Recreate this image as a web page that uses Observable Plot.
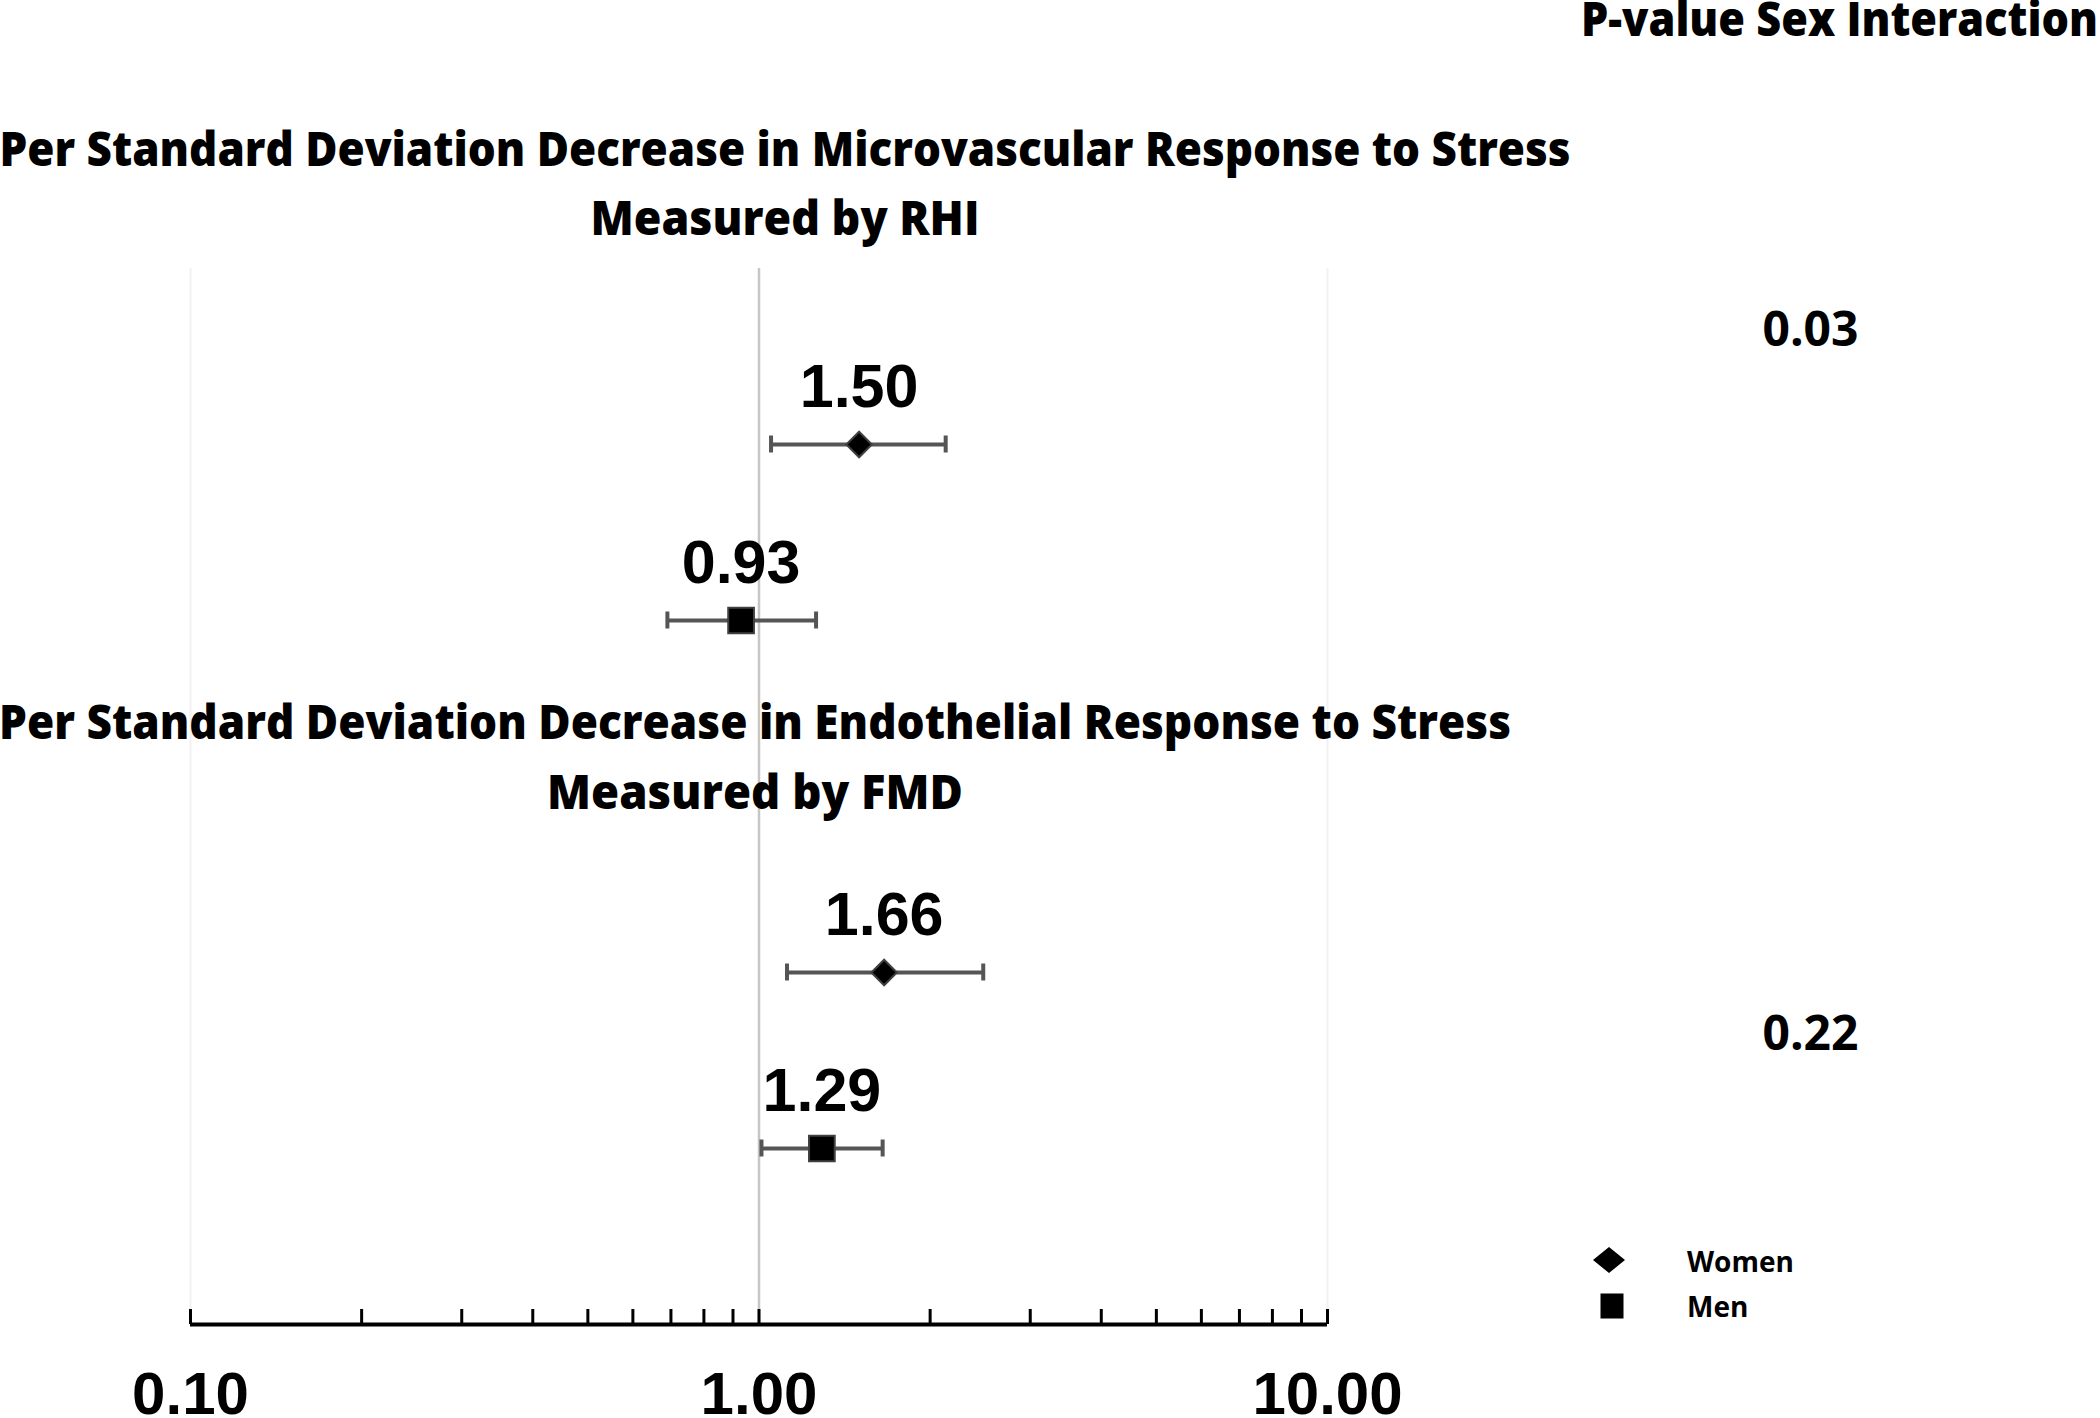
<!DOCTYPE html>
<html><head><meta charset="utf-8">
<script src="https://cdn.jsdelivr.net/npm/d3@7"></script>
<script src="https://cdn.jsdelivr.net/npm/@observablehq/plot@0.6"></script>
<style>
html,body{margin:0;padding:0;background:#fff;}
#wrap{position:relative;width:2100px;height:1418px;overflow:hidden;background:#fff;}
#wrap svg{position:absolute;left:0;top:0;}
</style></head><body><div id="wrap"></div>
<script>
// ---- data ----
const groups = ["RHI", "RHI", "FMD", "FMD"];
const sexes = ["Women", "Men", "Women", "Men"];
const estimates = [1.50, 0.93, 1.66, 1.29];
const lowerCI = [1.05, 0.69, 1.12, 1.01];
const upperCI = [2.13, 1.26, 2.48, 1.65];
const estimateLabels = ["1.50", "0.93", "1.66", "1.29"];
const rowKeys = ["top", "RHI Women", "RHI Men", "gap", "FMD Women", "FMD Men", "axis"];
const pValues = ["0.03", "0.22"];
const pValueRows = ["RHI Women", "FMD Men"];
const pValueHeader = "P-value Sex Interaction";
const titleLines = [
  "Per Standard Deviation Decrease in Microvascular Response to Stress",
  "Measured by RHI",
  "Per Standard Deviation Decrease in Endothelial Response to Stress",
  "Measured by FMD"
];
const minorTicks = [0.1, 0.2, 0.3, 0.4, 0.5, 0.6, 0.7, 0.8, 0.9, 1, 2, 3, 4, 5, 6, 7, 8, 9, 10];
const tickLabels = [0.1, 1, 10];
const edgeLines = [0.1, 10];
const refLine = [1];
const legendItems = ["Women", "Men"];

const data = groups.map((g, i) => ({
  row: `${g} ${sexes[i]}`, sex: sexes[i], est: estimates[i],
  lo: lowerCI[i], hi: upperCI[i], label: estimateLabels[i]
}));

const W = 2100, H = 1418;
const barColor = "#555555";
const numFont = "'Liberation Sans', Arial, sans-serif";
const txtFont = "'Open Sans', 'Noto Sans', sans-serif";

const chart = Plot.plot({
  width: W, height: H,
  marginLeft: 190, marginRight: 773, marginTop: 267, marginBottom: 93,
  style: {background: "#fff", overflow: "visible"},
  x: {type: "log", domain: [0.1, 10], label: null},
  y: {type: "point", domain: rowKeys, padding: 0, axis: null, label: null},
  marks: [
    Plot.ruleX(edgeLines, {x: d => d, y1: () => "top", y2: () => "axis", stroke: "#f2f2f2", strokeWidth: 2}),
    Plot.ruleX(refLine, {x: d => d, y1: () => "top", y2: () => "axis", stroke: "#c6c6c6", strokeWidth: 2.5}),
    Plot.ruleY(["axis"], {y: d => d, x1: 0.1, x2: 10, stroke: "#000", strokeWidth: 4}),
    Plot.ruleX(minorTicks, {x: d => d, y1: () => "axis", y2: () => "axis", insetTop: -15, stroke: "#000", strokeWidth: 3}),
    Plot.axisX({ticks: tickLabels, tickFormat: d => d.toFixed(2), tickSize: 0, tickPadding: 46,
      fontSize: 60, fontWeight: "bold", fontFamily: numFont, fill: "#000", label: null}),
    // error bars
    Plot.ruleY(data, {y: "row", x1: "lo", x2: "hi", stroke: barColor, strokeWidth: 4}),
    Plot.ruleX(data, {x: "lo", y1: "row", y2: "row", insetTop: -8.5, insetBottom: -8.5, stroke: barColor, strokeWidth: 4}),
    Plot.ruleX(data, {x: "hi", y1: "row", y2: "row", insetTop: -8.5, insetBottom: -8.5, stroke: barColor, strokeWidth: 4}),
    // markers
    Plot.dot(data.filter(d => d.sex === "Women"), {x: "est", y: "row", symbol: "diamond2", r: 11.5, fill: "#000", stroke: "#404040", strokeWidth: 2}),
    Plot.dot(data.filter(d => d.sex === "Men"), {x: "est", y: "row", symbol: "square", r: 14.5, fill: "#000", stroke: "#404040", strokeWidth: 2}),
    // value labels
    Plot.text(data, {x: "est", y: "row", text: "label", dy: -57, lineAnchor: "middle", textAnchor: "middle",
      fontSize: 61, fontWeight: "bold", fontFamily: numFont, fill: "#000"}),
    // p-values
    Plot.text(pValues, {y: (d, i) => pValueRows[i], text: d => d, frameAnchor: "right", dx: 483, dy: -114,
      lineAnchor: "middle", textAnchor: "middle", fontSize: 48, fontWeight: 700, fontFamily: txtFont, fill: "#000"})
  ]
});
document.getElementById("wrap").appendChild(chart);

// ---- overlay: titles, header, legend ----
const ov = d3.select("#wrap").append("svg")
  .attr("width", W).attr("height", H).style("overflow", "visible").style("pointer-events", "none");

const titleLayout = [
  {x: 785, y: 166, len: 1571},
  {x: 785, y: 235, len: 389},
  {x: 755, y: 739, len: 1512},
  {x: 755, y: 809, len: 416}
];
titleLines.forEach((t, i) => {
  const L = titleLayout[i];
  ov.append("text").attr("x", L.x).attr("y", L.y).attr("text-anchor", "middle")
    .attr("textLength", L.len).attr("lengthAdjust", "spacingAndGlyphs")
    .attr("font-family", txtFont).attr("font-weight", 800).attr("font-size", 48)
    .attr("fill", "#000").text(t);
});
ov.append("text").attr("x", 1581).attr("y", 36)
  .attr("textLength", 517).attr("lengthAdjust", "spacingAndGlyphs")
  .attr("font-family", txtFont).attr("font-weight", 800).attr("font-size", 48)
  .attr("fill", "#000").text(pValueHeader);

// legend
const lg = ov.append("g");
lg.append("polygon").attr("points", "1609,1247 1625,1260 1609,1273 1593,1260").attr("fill", "#000");
lg.append("rect").attr("x", 1600.5).attr("y", 1293.5).attr("width", 23).attr("height", 25).attr("fill", "#000");
legendItems.forEach((t, i) => {
  lg.append("text").attr("x", 1687).attr("y", [1272, 1317][i])
    .attr("font-family", txtFont).attr("font-weight", 700).attr("font-size", 28)
    .attr("fill", "#000").text(t);
});
</script></body></html>
